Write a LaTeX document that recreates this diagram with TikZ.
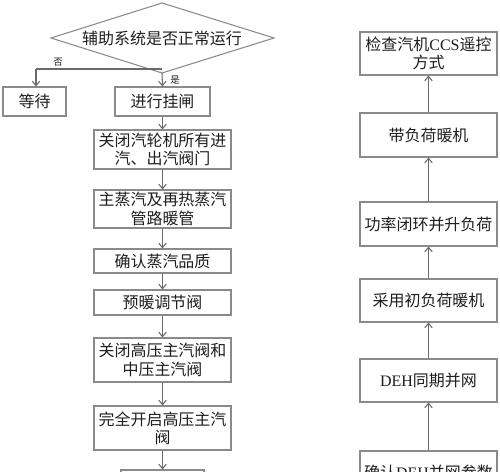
\documentclass[tikz,border=0pt]{standalone}
\usepackage{fontspec}
\setmainfont{Liberation Serif}
\newfontfamily\cjk{Noto Sans CJK SC}
\newcommand\latn[1]{{\rmfamily #1}}
\usetikzlibrary{arrows.meta}
\definecolor{ink}{HTML}{1E1E1E}
\definecolor{frame}{HTML}{8A8A8A}
\definecolor{wire}{HTML}{6A6A6A}
\tikzset{
  step box/.style={draw=frame, line width=.6pt, text=ink, align=center,
                   font=\cjk\fontsize{9.1pt}{10.4pt}\selectfont,
                   inner sep=0pt, minimum width=2.74cm, minimum height=#1},
  step box/.default=0.88cm,
  flow/.style={draw=wire, line width=.6pt,
               -{Straight Barb[length=0.9mm,width=1.5mm]}},
  tag/.style={font=\cjk\fontsize{5.4pt}{6pt}\selectfont, text=ink, inner sep=0pt}
}

\begin{document}
\begin{tikzpicture}[x=0.02cm,y=-0.02cm]
\useasboundingbox (0,0) rectangle (500,472);
\clip (0,0) rectangle (500,472);

% Left column: start-up preparation, read from top to bottom.
\draw[draw=frame, line width=.6pt] (162,3) -- (274,38) -- (162,73) -- (51,38) -- cycle;
\coordinate (dbot) at (162,73);
\node[font=\cjk\fontsize{9.1pt}{10.4pt}\selectfont, text=ink] (check) at (162,38)
  {辅助系统是否正常运行};

\node[step box=0.58cm, minimum width=1.26cm] (wait) at (34.5,101.5) {等待};
\node[step box=0.58cm, minimum width=1.9cm] (latch) at (162.5,101.5) {进行挂闸};
\node[step box=0.78cm] (closeall) at (162.5,149.5) {关闭汽轮机所有进\\汽、出汽阀门};
\node[step box=0.76cm] (pipes) at (162.5,209) {主蒸汽及再热蒸汽\\管路暖管};
\node[step box=0.48cm] (quality) at (162.5,261) {确认蒸汽品质};
\node[step box=0.5cm] (prewarm) at (162.5,302.5) {预暖调节阀};
\node[step box] (closehp) at (162.5,360) {关闭高压主汽阀和\\中压主汽阀};
\node[step box] (openhp) at (162.5,428) {完全开启高压主汽\\阀};
\node[step box=0.58cm, minimum width=1.66cm] (next) at (162.5,484.5) {};

% Branch: no goes left to wait, yes goes down to latch.
\coordinate (nturn) at (36,69);
\draw[draw=wire, line width=.6pt] (162,69) -- (nturn);
\draw[flow] (nturn) -- (wait.north -| nturn);
\draw[flow] (dbot) -- (latch.north);
\node[tag] (no) at (58,62) {否};
\node[tag] (yes) at (175,80) {是};

\foreach \a/\b in {latch/closeall,closeall/pipes,pipes/quality,quality/prewarm,
  prewarm/closehp,closehp/openhp,openhp/next}
  \draw[flow] (\a) -- (\b);

% Right column: grid connection, read from bottom to top.
\node[step box=0.86cm] (ccs) at (428.5,53.5) {检查汽机\latn{CCS}遥控\\方式};
\node[step box] (loadwarm) at (428.5,135) {带负荷暖机};
\node[step box] (ramp) at (428.5,224) {功率闭环并升负荷};
\node[step box=0.86cm] (initwarm) at (428.5,300.5) {采用初负荷暖机};
\node[step box=0.86cm] (sync) at (428.5,380.5) {\latn{DEH}同期并网};
\node[step box=0.86cm] (params) at (428.5,472.5) {确认\latn{DEH}并网参数};

\foreach \a/\b in {params/sync,sync/initwarm,initwarm/ramp,ramp/loadwarm,loadwarm/ccs}
  \draw[flow] (\a) -- (\b);

\end{tikzpicture}
\end{document}
